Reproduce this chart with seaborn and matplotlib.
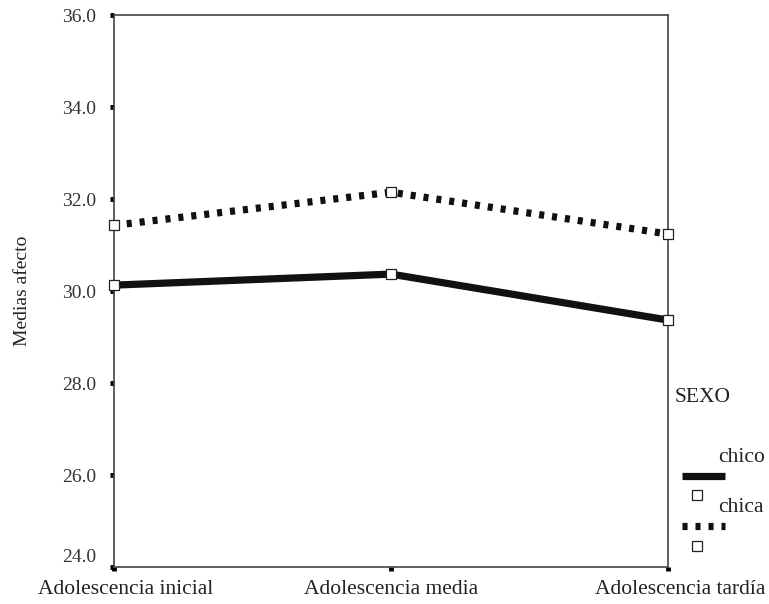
import matplotlib
matplotlib.use('Agg')
import matplotlib.pyplot as plt
import matplotlib.transforms as mtrans
from matplotlib.lines import Line2D
import pandas as pd
import seaborn as sns

# ── Data ───────────────────────────────────────────────────────────────────
etapas = ['Adolescencia inicial', 'Adolescencia media', 'Adolescencia tardía']
chico = [30.13, 30.37, 29.37]
chica = [31.43, 32.15, 31.24]
y_ticks = [24.0, 26.0, 28.0, 30.0, 32.0, 34.0, 36.0]

df = pd.DataFrame({
    'etapa': list(range(3)) * 2,
    'media': chico + chica,
    'SEXO': ['chico'] * 3 + ['chica'] * 3,
})

sns.set_style('white')
plt.rcParams['font.family'] = ['Liberation Serif', 'DejaVu Serif']

LW = 5.2
DOTS = (0.7, 1.1)

fig = plt.figure(figsize=(7.69, 6.04), dpi=100)
ax = fig.add_axes([0.148, 0.061, 0.721, 0.914])

sns.lineplot(data=df, x='etapa', y='media', hue='SEXO', style='SEXO',
             palette={'chico': 'black', 'chica': 'black'},
             dashes={'chico': '', 'chica': DOTS},
             linewidth=LW, ax=ax, legend=False)
for ln in ax.lines:
    ln.set_dash_capstyle('butt')
    ln.set_solid_capstyle('butt')
    ln.set_color('#111111')

# hollow squares at each point
for vals in (chico, chica):
    pts = sns.scatterplot(x=list(range(3)), y=vals, marker='s', s=55, color='white',
                          edgecolor='#222222', linewidth=0.9, ax=ax, zorder=5, legend=False)
for c in ax.collections:
    c.set_clip_on(False)

ax.set_xlim(0, 2)
ax.set_ylim(24, 36)
ax.set_yticks(y_ticks)
ax.set_yticklabels([f'{v:.1f}' for v in y_ticks], fontsize=14, color='#333333')
ax.set_xticks(range(3))
ax.set_xticklabels(etapas, fontsize=15.5, color='#222222')
ax.set_xlabel('')
ax.set_ylabel('Medias afecto', fontsize=14, color='#222222', labelpad=22)
ax.tick_params(axis='both', length=3, width=3.5, color='black', direction='out',
               bottom=True, left=True)
ax.tick_params(axis='y', pad=10)
ax.tick_params(axis='x', pad=6)
for s in ax.spines.values():
    s.set_color('#444444')
    s.set_linewidth(1.2)

# nudge edge labels like the original
xl = ax.get_xticklabels()
for i in (0, 2):
    xl[i].set_transform(xl[i].get_transform() + mtrans.ScaledTranslation(0.12, 0, fig.dpi_scale_trans))
yl = ax.get_yticklabels()
yl[0].set_transform(yl[0].get_transform() + mtrans.ScaledTranslation(0, 0.12, fig.dpi_scale_trans))

# ── Legend (SPSS-like, outside right) ──────────────────────────────────────
W, H = 769, 604
def fx(px): return px / W
def fy(py): return 1 - py / H

fig.text(fx(675), fy(398), 'SEXO', fontsize=15.5, va='center', ha='left', color='#222222')
fig.text(fx(718), fy(458), 'chico', fontsize=15.5, va='center', ha='left', color='#222222')
fig.text(fx(718), fy(508), 'chica', fontsize=15.5, va='center', ha='left', color='#222222')
fig.add_artist(Line2D([fx(682), fx(725)], [fy(476), fy(476)], color='#111111', lw=LW,
                      solid_capstyle='butt'))
fig.add_artist(Line2D([fx(682), fx(725)], [fy(526), fy(526)], color='#111111', lw=LW,
                      dashes=DOTS, dash_capstyle='butt'))
for py in (495, 546):
    fig.add_artist(Line2D([fx(697)], [fy(py)], marker='s', markersize=7,
                          markerfacecolor='white', markeredgecolor='#222222',
                          markeredgewidth=0.9, linestyle='none'))

plt.savefig('out.png', dpi=100)
plt.close()
